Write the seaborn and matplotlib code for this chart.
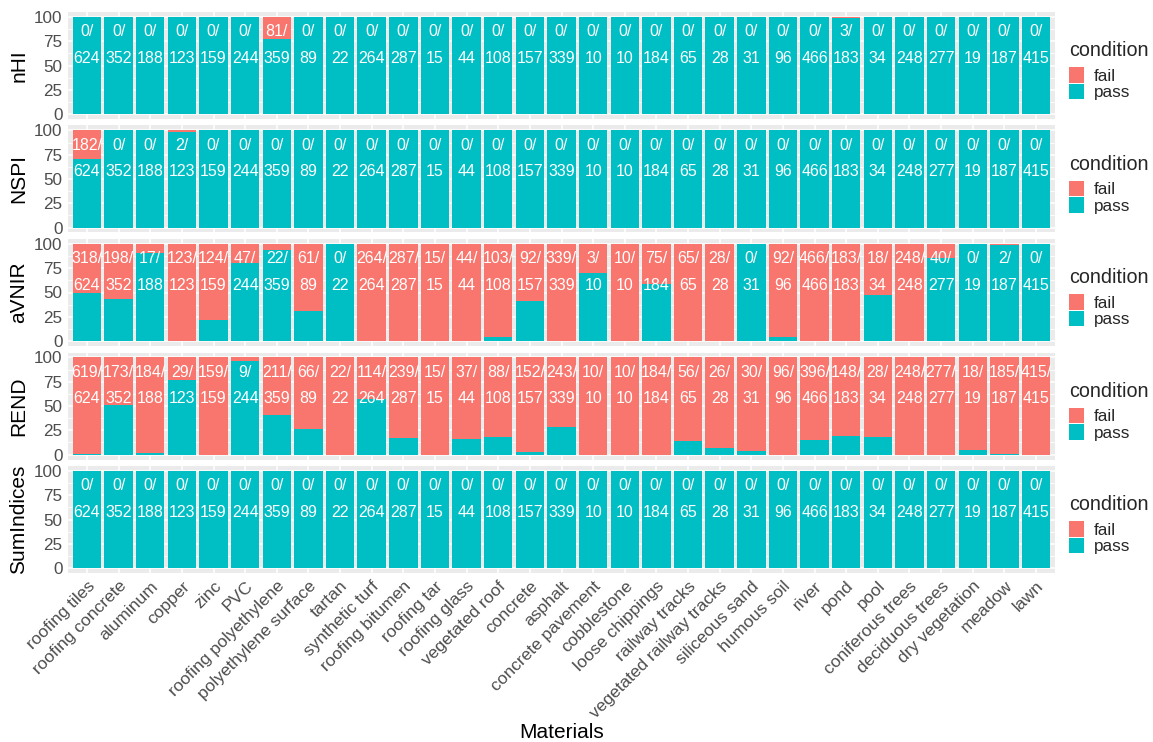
import matplotlib
matplotlib.use("Agg")
import matplotlib.pyplot as plt
from matplotlib.patches import Patch
import numpy as np
import pandas as pd
import seaborn as sns

materials = [
    "roofing tiles", "roofing concrete", "aluminum", "copper", "zinc", "PVC",
    "roofing polyethylene", "polyethylene surface", "tartan", "synthetic turf",
    "roofing bitumen", "roofing tar", "roofing glass", "vegetated roof", "concrete",
    "asphalt", "concrete pavement", "cobblestone", "loose chippings", "railway tracks",
    "vegetated railway tracks", "siliceous sand", "humous soil", "river", "pond",
    "pool", "coniferous trees", "deciduous trees", "dry vegetation", "meadow", "lawn",
]
totals = [624, 352, 188, 123, 159, 244, 359, 89, 22, 264, 287, 15, 44, 108, 157,
          339, 10, 10, 184, 65, 28, 31, 96, 466, 183, 34, 248, 277, 19, 187, 415]

indices = ["nHI", "NSPI", "aVNIR", "REND", "SumIndices"]
fail_nHI = [0, 0, 0, 0, 0, 0, 81, 0, 0, 0, 0, 0, 0, 0, 0, 0,
            0, 0, 0, 0, 0, 0, 0, 0, 3, 0, 0, 0, 0, 0, 0]
fail_NSPI = [182, 0, 0, 2, 0, 0, 0, 0, 0, 0, 0, 0, 0, 0, 0, 0,
             0, 0, 0, 0, 0, 0, 0, 0, 0, 0, 0, 0, 0, 0, 0]
fail_aVNIR = [318, 198, 17, 123, 124, 47, 22, 61, 0, 264, 287, 15, 44, 103, 92, 339,
              3, 10, 75, 65, 28, 0, 92, 466, 183, 18, 248, 40, 0, 2, 0]
fail_REND = [619, 173, 184, 29, 159, 9, 211, 66, 22, 114, 239, 15, 37, 88, 152, 243,
             10, 10, 184, 56, 26, 30, 96, 396, 148, 28, 248, 277, 18, 185, 415]
fail_SumIndices = [0, 0, 0, 0, 0, 0, 0, 0, 0, 0, 0, 0, 0, 0, 0, 0,
                   0, 0, 0, 0, 0, 0, 0, 0, 0, 0, 0, 0, 0, 0, 0]
fails = [fail_nHI, fail_NSPI, fail_aVNIR, fail_REND, fail_SumIndices]

FAIL_COL = "#F8766D"
PASS_COL = "#00BFC4"

sns.set_style("darkgrid", {"axes.facecolor": "#EBEBEB", "grid.color": "white",
                           "axes.edgecolor": "none"})
plt.rcParams["font.family"] = ["Liberation Sans", "DejaVu Sans"]

fig = plt.figure(figsize=(11.53, 7.42), dpi=100)
W, H = 1153, 742
left_px, right_px = 68, 1055
top_px, panel_h, step = 12, 107, 113.5
panel_w = right_px - left_px

for k, (name, fail) in enumerate(zip(indices, fails)):
    y0 = top_px + k * step
    ax = fig.add_axes([left_px / W, 1 - (y0 + panel_h) / H, panel_w / W, panel_h / H])
    tot = np.array(totals, dtype=float)
    f = np.array(fail, dtype=float)
    df = pd.DataFrame({
        "material": materials,
        "fail_pct": f / tot * 100,
        "pass_pct": (tot - f) / tot * 100,
    })
    df["stack_top"] = df["pass_pct"] + df["fail_pct"]

    # stacked percentage bars: fail on top of pass
    sns.barplot(data=df, x="material", y="stack_top", order=materials, color=FAIL_COL,
                saturation=1, width=0.9, ax=ax, linewidth=0)
    sns.barplot(data=df, x="material", y="pass_pct", order=materials, color=PASS_COL,
                saturation=1, width=0.9, ax=ax, linewidth=0)

    for i, (fv, tv) in enumerate(zip(fail, totals)):
        ax.text(i, 71, f"{fv}/\n{tv}", ha="center", va="center", color="white",
                fontsize=11.5, linespacing=1.95)

    ax.set_xlim(-0.6, len(materials) - 0.4)
    ax.set_ylim(-5, 105)
    ax.set_yticks([0, 25, 50, 75, 100])
    ax.set_yticks([12.5, 37.5, 62.5, 87.5], minor=True)
    ax.grid(which="major", color="white", linewidth=1.1)
    ax.grid(which="minor", axis="y", color="white", linewidth=0.55)
    ax.set_axisbelow(True)
    ax.tick_params(axis="both", which="major", length=2.75, width=0.8, color="#333333",
                   labelsize=12.3, labelcolor="#4D4D4D", pad=1.2)
    ax.tick_params(which="minor", length=0)
    ax.set_ylabel(name, fontsize=15, color="black", labelpad=4)

    if k < len(indices) - 1:
        ax.set_xticklabels([])
        ax.set_xlabel("")
    else:
        ax.set_xticks(range(len(materials)))
        ax.set_xticklabels(materials, rotation=45, ha="right", va="top",
                           rotation_mode="anchor", fontsize=12.5, color="#4D4D4D")
        ax.set_xlabel("Materials", fontsize=15, color="black")
        ax.xaxis.label.set_va("center")
        ax.xaxis.set_label_coords(0.5, -(733 - (y0 + panel_h)) / panel_h)

    handles = [Patch(facecolor=FAIL_COL, edgecolor="none", label="fail"),
               Patch(facecolor=PASS_COL, edgecolor="none", label="pass")]
    leg = ax.legend(handles=handles, title="condition", loc="center left",
                    bbox_to_anchor=(1 + 14 / panel_w, 0.45), frameon=False,
                    fontsize=12.3, title_fontsize=14.2, handlelength=0.85,
                    handleheight=1.0, labelspacing=0.0, handletextpad=0.6,
                    borderaxespad=0.0, borderpad=0.0)
    leg._legend_box.align = "left"
    leg._legend_box.sep = 5

fig.savefig("out.png", dpi=100)
